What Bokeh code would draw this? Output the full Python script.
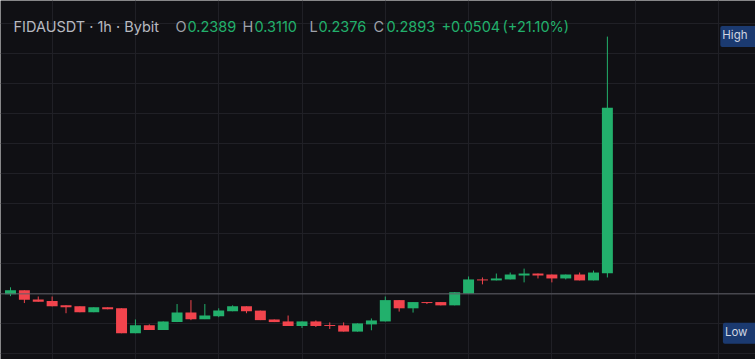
from bokeh.plotting import figure
from bokeh.models import ColumnDataSource, FixedTicker, Span, Label
from bokeh.embed import file_html
from bokeh.resources import INLINE

# ---- data (1h candles, FIDAUSDT, Bybit) ----
opens  = [0.2325, 0.2337, 0.2309, 0.2304, 0.2291, 0.2288, 0.2270, 0.2285, 0.2282, 0.2206,
          0.2230, 0.2216, 0.2240, 0.2269, 0.2249, 0.2258, 0.2273, 0.2288, 0.2275, 0.2248,
          0.2242, 0.2228, 0.2242, 0.2231, 0.2230, 0.2211, 0.2233, 0.2242, 0.2307, 0.2282,
          0.2301, 0.2301, 0.2291, 0.2327, 0.2370, 0.2367, 0.2370, 0.2382, 0.2388, 0.2385,
          0.2373, 0.2385, 0.2367, 0.2389]
highs  = [0.2346, 0.2337, 0.2318, 0.2318, 0.2291, 0.2288, 0.2285, 0.2285, 0.2282, 0.2248,
          0.2233, 0.2242, 0.2295, 0.2307, 0.2295, 0.2282, 0.2291, 0.2288, 0.2275, 0.2248,
          0.2260, 0.2242, 0.2245, 0.2239, 0.2239, 0.2236, 0.2251, 0.2318, 0.2307, 0.2301,
          0.2301, 0.2301, 0.2331, 0.2379, 0.2376, 0.2388, 0.2391, 0.2403, 0.2388, 0.2385,
          0.2385, 0.2391, 0.2397, 0.3110]
lows   = [0.2319, 0.2298, 0.2302, 0.2288, 0.2267, 0.2270, 0.2270, 0.2279, 0.2206, 0.2206,
          0.2216, 0.2216, 0.2240, 0.2246, 0.2249, 0.2255, 0.2273, 0.2267, 0.2246, 0.2240,
          0.2228, 0.2222, 0.2225, 0.2219, 0.2211, 0.2211, 0.2215, 0.2242, 0.2272, 0.2269,
          0.2295, 0.2291, 0.2291, 0.2327, 0.2355, 0.2367, 0.2370, 0.2361, 0.2373, 0.2361,
          0.2370, 0.2367, 0.2367, 0.2376]
closes = [0.2337, 0.2308, 0.2302, 0.2288, 0.2285, 0.2270, 0.2285, 0.2279, 0.2206, 0.2230,
          0.2216, 0.2242, 0.2269, 0.2249, 0.2260, 0.2275, 0.2288, 0.2273, 0.2246, 0.2240,
          0.2228, 0.2242, 0.2228, 0.2228, 0.2211, 0.2236, 0.2245, 0.2307, 0.2282, 0.2301,
          0.2298, 0.2291, 0.2331, 0.2370, 0.2367, 0.2373, 0.2385, 0.2388, 0.2382, 0.2373,
          0.2385, 0.2367, 0.2391, 0.2893]
ref_price = 0.2326
grid_prices = [0.2143, 0.2235, 0.2326, 0.2418, 0.2510, 0.2601, 0.2693, 0.2785,
               0.2876, 0.2968, 0.3060, 0.3151]
grid_bars = [3, 9, 15, 21, 27, 33, 39, 45, 51]
symbol_title = "FIDAUSDT · 1h · Bybit"

GREEN = "#22b06c"
RED = "#f2444d"
BG = "#101014"

idx = list(range(len(opens)))
colors = [GREEN if c >= o else RED for o, c in zip(opens, closes)]
top = [max(o, c) for o, c in zip(opens, closes)]
bot = [min(o, c) for o, c in zip(opens, closes)]
# keep doji bodies visible
bot = [b if t - b > 0.00025 else t - 0.00025 for t, b in zip(top, bot)]
src = ColumnDataSource(dict(x=idx, top=top, bottom=bot, high=highs, low=lows, color=colors))

W, H = 755, 359
p = figure(width=W, height=H, x_range=(-0.72, 53.67), y_range=(0.2126, 0.3220),
           output_backend="svg", toolbar_location=None, min_border=0)
p.xaxis.visible = False
p.yaxis.visible = False
p.background_fill_color = BG
p.border_fill_color = BG
p.outline_line_color = None
p.xgrid.ticker = FixedTicker(ticks=grid_bars)
p.ygrid.ticker = FixedTicker(ticks=grid_prices)
for g in (p.xgrid, p.ygrid):
    g.grid_line_color = "#202026"
    g.grid_line_width = 1

p.add_layout(Span(location=ref_price, dimension="width", line_color="#5e5e66", line_width=1))

p.segment(x0="x", x1="x", y0="low", y1="high", color="color", line_width=1, source=src)
p.vbar(x="x", top="top", bottom="bottom", width=0.79, fill_color="color",
       line_color=None, source=src)

FONT = "Inter"
BASE = H - 25.5
TITLE_C = "#b8bac1"
LET_C = "#9fa2aa"

def lab(x, txt, color, size="14.5px"):
    p.add_layout(Label(x=x, y=BASE, x_units="screen", y_units="screen", text=txt,
                       text_color=color, text_font=FONT, text_font_size=size,
                       text_baseline="alphabetic"))

o, h, l, c = opens[-1], highs[-1], lows[-1], closes[-1]
chg = c - o
pct = chg / o * 100
lab(13, symbol_title, TITLE_C)
lab(175, "O", LET_C); lab(187, f"{o:.4f}", GREEN)
lab(242, "H", LET_C); lab(254, f"{h:.4f}", GREEN)
lab(309, "L", LET_C); lab(318, f"{l:.4f}", GREEN)
lab(373, "C", LET_C); lab(386, f"{c:.4f}", GREEN)
lab(441, f"+{chg:.4f}", GREEN); lab(502, f"(+{pct:.2f}%)", GREEN)

for price, txt in ((max(highs), "High"), (min(lows), "Low")):
    p.add_layout(Label(x=W + 2, y=price, x_units="screen", y_units="data", text=txt,
                       text_align="right", text_baseline="middle",
                       text_color="#d0d6e2", text_font=FONT, text_font_size="11.5px",
                       background_fill_color="#1b3a70", padding=(2, 10, 2, 5),
                       border_radius=2))

open("out.html", "w").write(file_html(p, INLINE))
